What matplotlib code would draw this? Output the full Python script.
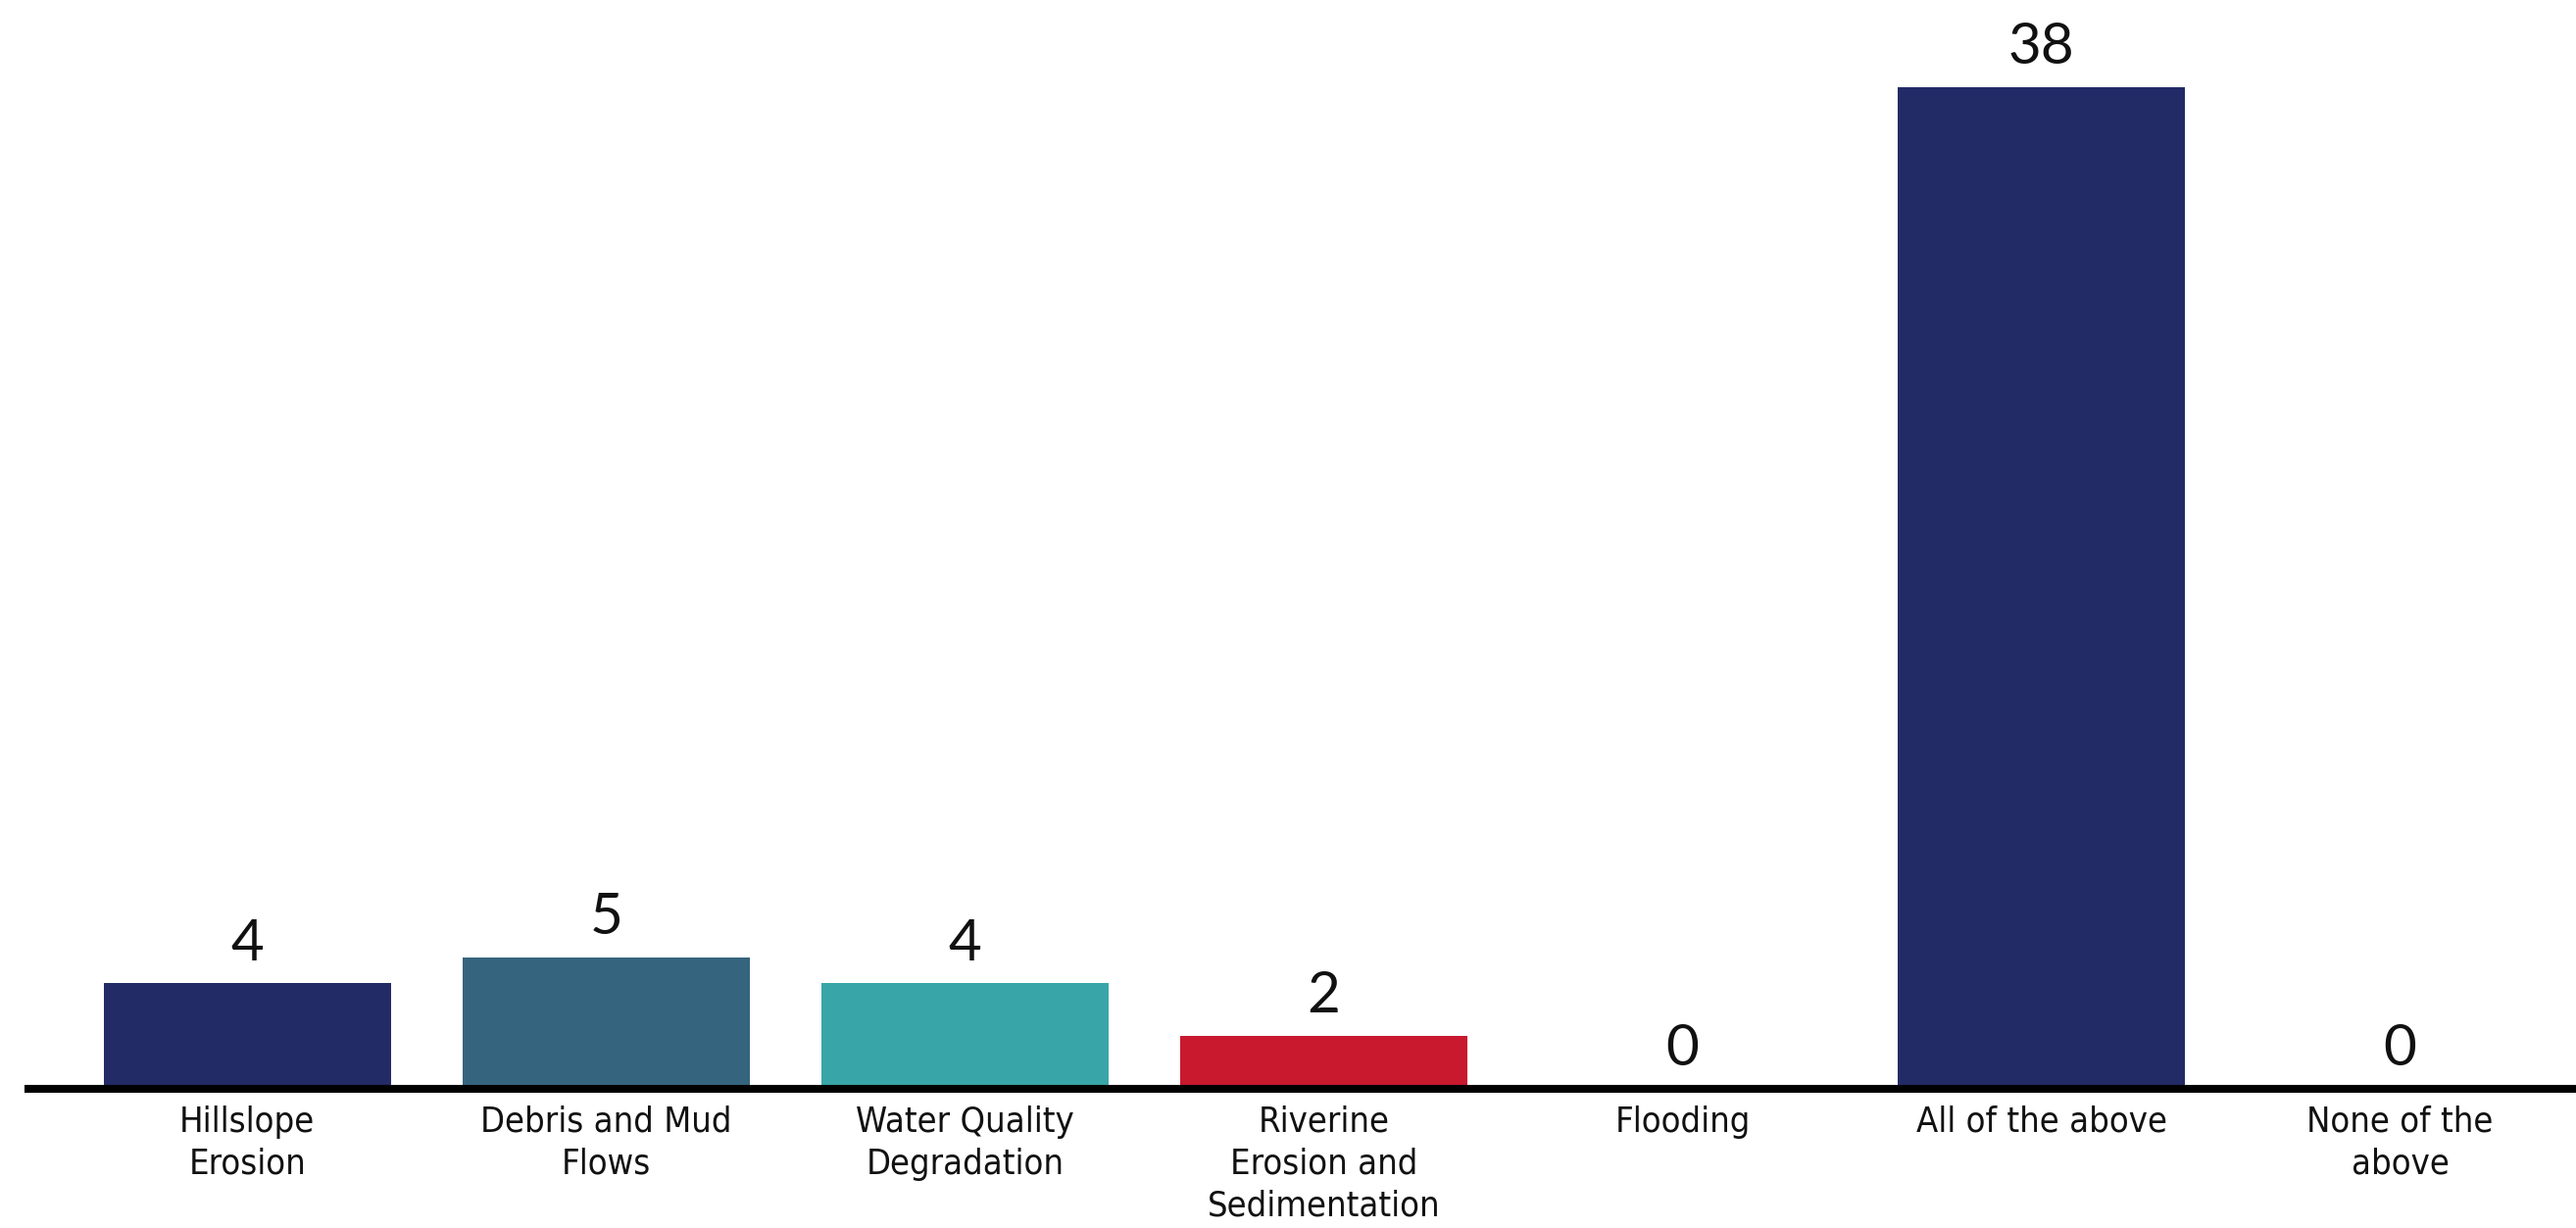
import matplotlib
matplotlib.use('Agg')
import matplotlib.pyplot as plt
from matplotlib import font_manager

categories = ['Hillslope\nErosion', 'Debris and Mud\nFlows', 'Water Quality\nDegradation',
              'Riverine\nErosion and\nSedimentation', 'Flooding', 'All of the above',
              'None of the\nabove']
counts = [4, 5, 4, 2, 0, 38, 0]
bar_colors = ['#232B66', '#35647E', '#38A6A8', '#C8192F', '#232B66', '#232B66', '#232B66']

# condensed font for the category labels if available
names = {f.name for f in font_manager.fontManager.ttflist}
if 'Liberation Sans Narrow' in names:
    tick_font = dict(family=['Liberation Sans Narrow'])
else:
    tick_font = dict(family=['DejaVu Sans'], stretch='condensed')
value_family = ['Lato', 'DejaVu Sans']

fig = plt.figure(figsize=(26.28, 12.53), dpi=100)
ax = fig.add_axes([0.011, 0.1133, 0.989, 0.8867])

x = list(range(len(counts)))
ax.bar(x, counts, width=0.8, color=bar_colors, zorder=2)

for xi, v in zip(x, counts):
    ax.annotate(str(v), (xi, v), xytext=(0, 10), textcoords='offset points',
                ha='center', va='bottom', fontsize=42, family=value_family, color='#111111')

ax.set_xlim(-0.61, 6.49)
ax.set_ylim(0, 41.3)
ax.set_xticks(x)
ax.set_xticklabels(categories, fontsize=26, linespacing=1.33, color='#111111', **tick_font)
ax.tick_params(axis='x', length=0, pad=12)
ax.set_yticks([])
for s in ['top', 'left', 'right']:
    ax.spines[s].set_visible(False)
ax.spines['bottom'].set_linewidth(5.8)
ax.spines['bottom'].set_color('black')

fig.savefig('out.png', dpi=100)
